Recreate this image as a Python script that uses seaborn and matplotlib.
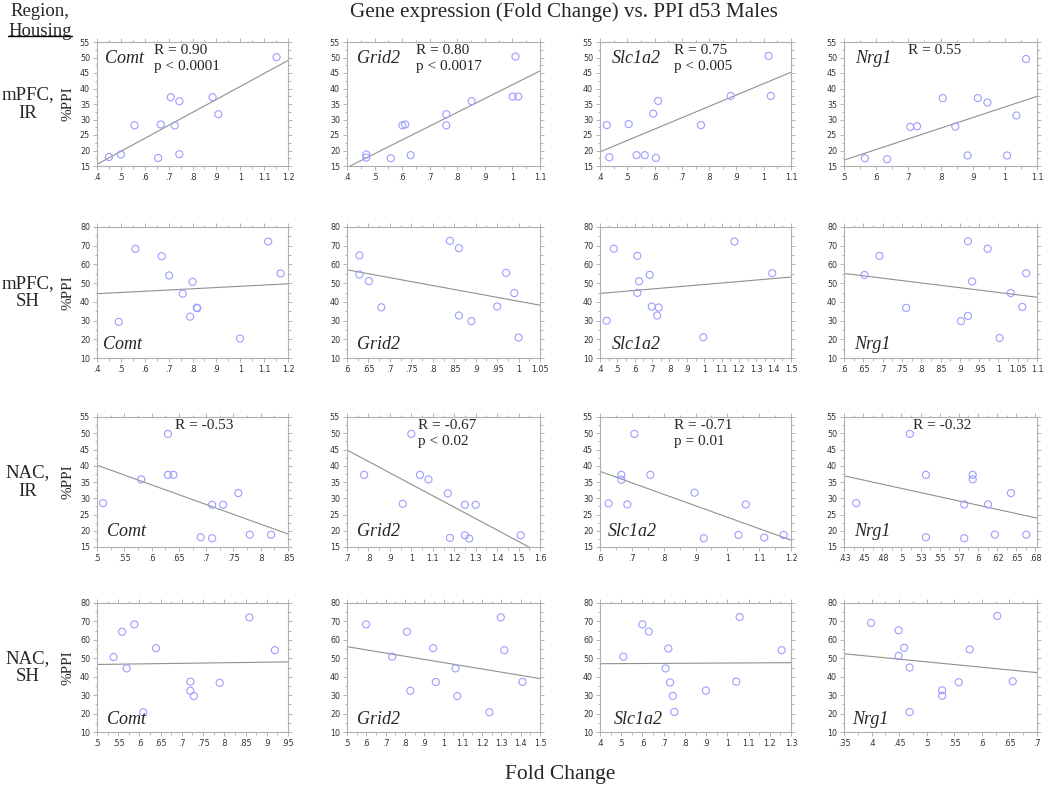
import numpy as np
import matplotlib
matplotlib.use("Agg")
import matplotlib.pyplot as plt
from matplotlib.ticker import MultipleLocator, AutoMinorLocator, FuncFormatter, FixedLocator, FixedFormatter
from matplotlib.lines import Line2D
import seaborn as sns

# values: x = fold change, y = %PPI
# mPFC, IR
comt_mpfc_ir_x = [0.45, 0.50, 0.557, 0.656, 0.667, 0.709, 0.726, 0.745, 0.745, 0.884, 0.908, 1.152]
comt_mpfc_ir_y = [17.9, 18.7, 28.1, 17.6, 28.4, 37.2, 28.1, 35.9, 18.8, 37.2, 31.7, 50.1]
grid2_mpfc_ir_x = [0.47, 0.47, 0.559, 0.601, 0.611, 0.631, 0.76, 0.76, 0.852, 1.001, 1.011, 1.021]
grid2_mpfc_ir_y = [18.7, 17.7, 17.5, 28.1, 28.4, 18.5, 31.7, 28.1, 35.9, 37.4, 50.3, 37.4]
slc_mpfc_ir_x = [0.425, 0.434, 0.505, 0.534, 0.564, 0.595, 0.605, 0.613, 0.770, 0.879, 1.018, 1.026]
slc_mpfc_ir_y = [28.2, 17.8, 28.5, 18.5, 18.5, 31.9, 17.6, 36.0, 28.2, 37.6, 50.5, 37.6]
nrg1_mpfc_ir_x = [0.565, 0.634, 0.706, 0.727, 0.807, 0.846, 0.884, 0.916, 0.946, 1.007, 1.036, 1.066]
nrg1_mpfc_ir_y = [17.5, 17.2, 27.6, 27.8, 36.9, 27.7, 18.4, 36.9, 35.5, 18.4, 31.3, 49.5]

# mPFC, SH
comt_mpfc_sh_x = [0.491, 0.561, 0.671, 0.702, 0.759, 0.790, 0.800, 0.818, 0.820, 0.999, 1.117, 1.169]
comt_mpfc_sh_y = [29.3, 68.3, 64.4, 54.1, 44.4, 32.1, 50.7, 36.9, 36.6, 20.4, 72.2, 55.2]
grid2_mpfc_sh_x = [0.629, 0.629, 0.651, 0.680, 0.840, 0.861, 0.861, 0.890, 0.950, 0.971, 0.990, 1.000]
grid2_mpfc_sh_y = [64.8, 54.6, 51.1, 37.1, 72.6, 68.7, 32.7, 29.7, 37.5, 55.5, 44.7, 20.9]
slc_mpfc_sh_x = [0.438, 0.479, 0.615, 0.615, 0.625, 0.686, 0.698, 0.738, 0.729, 0.995, 1.174, 1.392]
slc_mpfc_sh_y = [29.9, 68.4, 64.6, 44.8, 51.0, 54.4, 37.5, 37.0, 32.7, 21.1, 72.2, 55.3]
nrg1_mpfc_sh_x = [0.653, 0.692, 0.761, 0.903, 0.921, 0.921, 0.932, 0.972, 1.003, 1.032, 1.062, 1.072]
nrg1_mpfc_sh_y = [54.4, 64.6, 36.8, 29.7, 72.4, 32.5, 50.9, 68.4, 20.7, 44.7, 37.3, 55.3]

# NAC, IR
comt_nac_ir_x = [0.511, 0.581, 0.630, 0.630, 0.640, 0.690, 0.711, 0.711, 0.731, 0.759, 0.780, 0.819]
comt_nac_ir_y = [28.5, 35.8, 49.8, 37.2, 37.2, 18.0, 28.0, 17.7, 28.0, 31.6, 18.8, 18.8]
grid2_nac_ir_x = [0.78, 1.00, 0.96, 1.04, 1.08, 1.17, 1.18, 1.25, 1.25, 1.27, 1.30, 1.51]
grid2_nac_ir_y = [37.2, 49.8, 28.3, 37.2, 35.8, 31.5, 17.8, 28.0, 18.6, 17.6, 28.0, 18.6]
slc_nac_ir_x = [0.627, 0.667, 0.667, 0.686, 0.708, 0.758, 0.897, 0.926, 1.035, 1.058, 1.116, 1.177]
slc_nac_ir_y = [28.4, 37.2, 35.7, 28.1, 49.8, 37.2, 31.7, 17.7, 18.7, 28.1, 17.9, 18.7]
nrg1_nac_ir_x = [0.441, 0.511, 0.532, 0.532, 0.582, 0.582, 0.593, 0.593, 0.613, 0.622, 0.643, 0.663]
nrg1_nac_ir_y = [28.5, 49.8, 37.2, 18.0, 28.1, 17.7, 37.2, 35.8, 28.1, 18.8, 31.6, 18.8]

# NAC, SH
comt_nac_sh_x = [0.539, 0.559, 0.570, 0.588, 0.609, 0.639, 0.720, 0.720, 0.728, 0.789, 0.859, 0.919]
comt_nac_sh_y = [50.7, 64.4, 44.5, 68.4, 20.7, 55.5, 37.3, 32.4, 29.5, 36.7, 72.2, 54.4]
grid2_nac_sh_x = [0.599, 0.734, 0.811, 0.828, 0.946, 0.960, 1.062, 1.071, 1.238, 1.297, 1.315, 1.409]
grid2_nac_sh_y = [68.4, 50.9, 64.4, 32.4, 55.5, 37.1, 44.5, 29.5, 20.7, 72.2, 54.4, 37.2]
slc_nac_sh_x = [0.510, 0.600, 0.630, 0.722, 0.709, 0.730, 0.743, 0.750, 0.899, 1.042, 1.058, 1.256]
slc_nac_sh_y = [50.9, 68.4, 64.5, 55.3, 44.5, 36.9, 29.6, 20.9, 32.5, 37.3, 72.4, 54.4]
nrg1_nac_sh_x = [0.399, 0.449, 0.449, 0.459, 0.469, 0.469, 0.528, 0.528, 0.558, 0.578, 0.628, 0.656]
nrg1_nac_sh_y = [69.2, 65.2, 51.3, 55.7, 45.0, 20.8, 32.6, 29.7, 37.0, 54.8, 73.0, 37.5]

genes = ["Comt", "Grid2", "Slc1a2", "Nrg1"]
regions = ["mPFC,\nIR", "mPFC,\nSH", "NAC,\nIR", "NAC,\nSH"]
stats = [
    ["R = 0.90\np < 0.0001", "R = 0.80\np < 0.0017", "R = 0.75\np < 0.005", "R = 0.55"],
    ["", "", "", ""],
    ["R = -0.53", "R = -0.67\np < 0.02", "R = -0.71\np = 0.01", "R = -0.32"],
    ["", "", "", ""],
]
panels = [
    [(comt_mpfc_ir_x, comt_mpfc_ir_y), (grid2_mpfc_ir_x, grid2_mpfc_ir_y),
     (slc_mpfc_ir_x, slc_mpfc_ir_y), (nrg1_mpfc_ir_x, nrg1_mpfc_ir_y)],
    [(comt_mpfc_sh_x, comt_mpfc_sh_y), (grid2_mpfc_sh_x, grid2_mpfc_sh_y),
     (slc_mpfc_sh_x, slc_mpfc_sh_y), (nrg1_mpfc_sh_x, nrg1_mpfc_sh_y)],
    [(comt_nac_ir_x, comt_nac_ir_y), (grid2_nac_ir_x, grid2_nac_ir_y),
     (slc_nac_ir_x, slc_nac_ir_y), (nrg1_nac_ir_x, nrg1_nac_ir_y)],
    [(comt_nac_sh_x, comt_nac_sh_y), (grid2_nac_sh_x, grid2_nac_sh_y),
     (slc_nac_sh_x, slc_nac_sh_y), (nrg1_nac_sh_x, nrg1_nac_sh_y)],
]

# axis ranges (xmin, xmax, step)
xranges = [
    [(0.4, 1.2, 0.1), (0.4, 1.1, 0.1), (0.4, 1.1, 0.1), (0.5, 1.1, 0.1)],
    [(0.4, 1.2, 0.1), (0.6, 1.05, 0.05), (0.4, 1.5, 0.1), (0.6, 1.1, 0.05)],
    [(0.5, 0.85, 0.05), (0.7, 1.6, 0.1), (0.6, 1.2, 0.1), (0.425, 0.677, 0.025)],
    [(0.5, 0.95, 0.05), (0.5, 1.5, 0.1), (0.4, 1.3, 0.1), (0.35, 0.7, 0.05)],
]
yranges = [(15, 55, 5), (10, 80, 10), (15, 55, 5), (10, 80, 10)]
nrg1_nac_ir_ticklabels = [".43", ".45", ".48", ".5", ".53", ".55", ".57", ".6", ".62", ".65", ".68"]

sns.set_style("ticks")
plt.rcParams["font.family"] = "DejaVu Sans"
serif = "Liberation Serif"

W, H = 1050, 786
fig = plt.figure(figsize=(W / 100, H / 100), dpi=100)

col_px = [(97, 288), (347, 540), (600, 791), (844, 1037)]
row_px = [(42, 166), (227, 358), (417, 547), (603, 732)]

def fmt(v, pos=None):
    s = ("%.3f" % v).rstrip("0").rstrip(".")
    if s.startswith("0."):
        s = s[1:]
    return s

gene_x = [[0.04, 0.05, 0.06, 0.06], [0.03, 0.05, 0.06, 0.05],
          [0.05, 0.05, 0.04, 0.05], [0.05, 0.05, 0.07, 0.04]]
stat_x = [[0.30, 0.36, 0.39, 0.33], [0, 0, 0, 0],
          [0.41, 0.37, 0.39, 0.36], [0, 0, 0, 0]]

for r in range(4):
    for c in range(4):
        l, rr = col_px[c]
        t, b = row_px[r]
        ax = fig.add_axes([l / W, 1 - b / H, (rr - l) / W, (b - t) / H])
        x0, x1, xs = xranges[r][c]
        y0, y1, ys = yranges[r]
        ax.set_xlim(x0, x1)
        ax.set_ylim(y0, y1)
        xv, yv = panels[r][c]
        sns.regplot(x=np.array(xv), y=np.array(yv), ax=ax, ci=None, truncate=False,
                    color="#8a8a8a",
                    scatter_kws=dict(s=26, facecolors="none", edgecolors="#9d9dff",
                                     linewidths=0.8, alpha=1, zorder=3),
                    line_kws=dict(color="#909090", lw=0.8, zorder=2))
        ax.set_xlim(x0, x1)
        ax.set_ylim(y0, y1)
        ax.set_xlabel("")
        ax.set_ylabel("")

        if r == 2 and c == 3:
            ticks = [0.425 + 0.025 * i for i in range(11)]
            ax.xaxis.set_major_locator(FixedLocator(ticks))
            ax.xaxis.set_major_formatter(FixedFormatter(nrg1_nac_ir_ticklabels))
        else:
            ax.xaxis.set_major_locator(MultipleLocator(xs))
            ax.xaxis.set_major_formatter(FuncFormatter(fmt))
        ax.yaxis.set_major_locator(MultipleLocator(ys))
        ax.xaxis.set_minor_locator(AutoMinorLocator(2))
        ax.yaxis.set_minor_locator(AutoMinorLocator(2))
        ax.tick_params(which="both", direction="out", top=True, right=True,
                       labeltop=False, labelright=False, color="#a8a8a8",
                       labelcolor="#333333", labelsize=5.8, width=0.6, pad=2)
        ax.tick_params(which="major", length=3)
        ax.tick_params(which="minor", length=1.8)
        for sp in ax.spines.values():
            sp.set_color("#b0b0b0")
            sp.set_linewidth(0.8)

        if r == 0:
            ax.text(gene_x[r][c], 0.87, genes[c], transform=ax.transAxes, family=serif,
                    style="italic", fontsize=13, va="center", ha="left")
        else:
            gy = 0.12 if r == 2 else 0.10
            ax.text(gene_x[r][c], gy, genes[c], transform=ax.transAxes, family=serif,
                    style="italic", fontsize=13, va="center", ha="left")
        if stats[r][c]:
            ax.text(stat_x[r][c], 0.985, stats[r][c], transform=ax.transAxes, family=serif,
                    fontsize=11, va="top", ha="left", linespacing=1.3)

        if c == 0:
            ax.text(-0.15, 0.5, "%PPI", transform=ax.transAxes, family=serif,
                    fontsize=11, rotation=90, va="center", ha="center")
            yc = 1 - ((t + b) / 2) / H
            fig.text(28 / W, yc, regions[r], family=serif, fontsize=13.5,
                     ha="center", va="center", linespacing=1.1)

fig.text(564 / W, 1 - 12 / H, "Gene expression (Fold Change) vs. PPI d53 Males",
         family=serif, fontsize=15.2, ha="center", va="center")
fig.text(560 / W, 1 - 774 / H, "Fold Change", family=serif, fontsize=15.5,
         ha="center", va="center")
fig.text(40 / W, 1 - 12 / H, "Region,", family=serif, fontsize=13.5, ha="center", va="center")
hous = fig.text(40 / W, 1 - 31 / H, "Housing", family=serif, fontsize=13.5,
                ha="center", va="center")

# underline for "Housing"
fig.canvas.draw()
bb = hous.get_window_extent().transformed(fig.transFigure.inverted())
fig.add_artist(Line2D([bb.x0, bb.x1], [bb.y0 + 0.004, bb.y0 + 0.004],
                      transform=fig.transFigure, color="black", lw=1.0))

fig.savefig("out.png", dpi=100)
